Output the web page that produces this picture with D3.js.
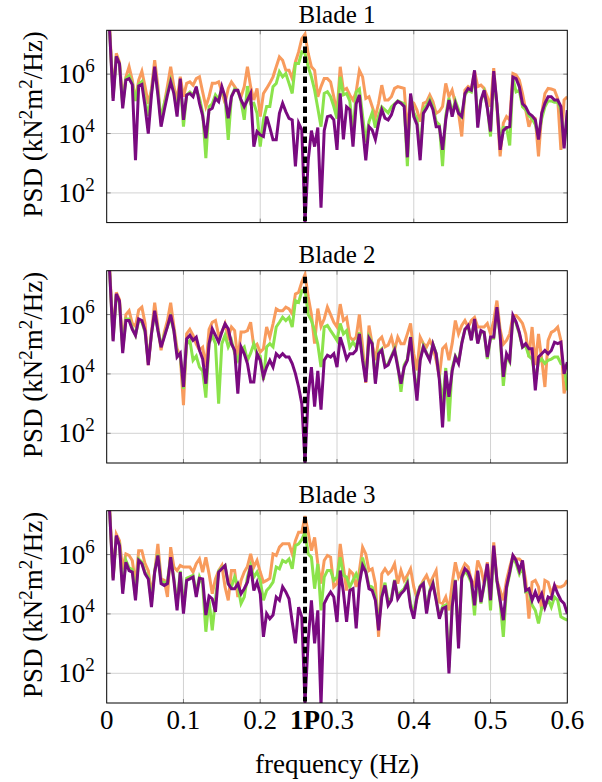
<!DOCTYPE html>
<html>
<head>
<meta charset="utf-8">
<script src="https://cdn.jsdelivr.net/npm/d3@7"></script>
<style>
  body { margin: 0; background: #fff; }
  svg text { font-family: "Liberation Serif", "Times New Roman", serif; fill: #000; }
</style>
</head>
<body>
<div id="chart"></div>
<script>
// PSD values are stored as log10(kN^2 m^2/Hz), one value per frequency bin (df = 1/240 Hz)
const df = 1 / 240;
const nBins = 145;
const oneP = 0.2583;
const onePSpan = [1.05, 7.27];
const psdDomain = [1, Math.log10(3e7)];
const yTicks = [2, 4, 6];
const xTickValues = [0, 0.1, 0.2, 0.3, 0.4, 0.5, 0.6];
const xTickLabels = ["0", "0.1", "0.2", "0.3", "0.4", "0.5", "0.6"];
const titles = ["Blade 1", "Blade 2", "Blade 3"];
const gridX = [[0.2, 0.4], [0.1, 0.2, 0.3, 0.4, 0.5], [0.1, 0.2, 0.3, 0.4, 0.5]];

const blade1Orange = [
  9.0, 7.4, 5.3, 6.7, 6.4, 5.1, 5.9, 6.25, 5.8, 5.13,
  5.8, 6.1, 5.58, 5.0, 5.5, 6.47, 5.6, 4.35, 5.0, 5.6,
  6.25, 5.58, 5.13, 5.91, 5.24, 5.69, 5.74, 5.63, 5.85, 5.91,
  5.4, 4.91, 5.24, 5.69, 5.69, 5.74, 5.41, 5.02, 5.52, 5.74,
  5.58, 5.41, 5.24, 5.58, 6.25, 5.58, 5.13, 5.52, 4.57, 5.35,
  5.52, 5.7, 5.91, 6.25, 6.58, 6.47, 6.13, 6.13, 5.85, 6.41,
  6.75, 7.2, 7.35, 6.7, 6.25, 6.13, 5.24, 5.58, 5.85, 5.85,
  5.74, 5.24, 4.68, 6.25, 5.46, 5.52, 5.3, 5.13, 5.41, 6.13,
  5.91, 5.18, 5.24, 4.91, 4.57, 5.02, 5.63, 5.13, 5.13, 5.24,
  5.52, 5.58, 5.55, 5.52, 4.12, 5.07, 5.02, 4.79, 4.40, 5.02,
  5.07, 5.30, 5.07, 4.68, 4.75, 4.91, 5.69, 5.24, 5.46, 5.02,
  4.68, 3.90, 5.46, 5.58, 5.5, 6.1, 5.58, 5.63, 5.52, 5.24,
  4.91, 6.2, 4.91, 3.23, 4.35, 4.57, 4.46, 6.02, 5.97, 5.80,
  5.35, 4.79, 4.23, 4.57, 4.5, 3.23, 4.68, 5.35, 5.52, 5.5,
  5.46, 5.18, 3.45, 5.13, 5.24
];
const blade1Green = [
  9.0, 7.3, 5.2, 6.6, 6.35, 4.95, 5.85, 5.95, 5.7, 5.1,
  5.65, 5.75, 5.1, 4.6, 5.4, 6.2, 5.4, 4.5, 5.0, 5.4,
  5.8, 5.4, 4.75, 5.8, 4.23, 5.3, 5.4, 5.3, 5.5, 5.2,
  4.7, 3.17, 4.9, 5.0, 5.3, 5.15, 5.5, 5.2, 3.79, 5.25,
  5.5, 5.45, 5.1, 4.46, 5.6, 5.0, 5.02, 4.68, 3.56, 4.46,
  4.91, 4.91, 5.58, 5.69, 6.08, 5.91, 6.02, 5.69, 5.35, 6.36,
  6.36, 6.75, 6.7, 6.25, 5.91, 5.46, 4.85, 4.23, 5.35, 5.41,
  5.24, 4.91, 4.5, 5.91, 5.3, 5.35, 5.1, 4.0, 5.4, 5.5,
  4.6, 3.7, 4.4, 4.7, 4.2, 4.6, 4.9, 4.8, 4.7, 4.9,
  5.0, 5.1, 5.05, 5.0, 2.9, 5.3, 4.7, 4.5, 3.3, 4.8,
  4.95, 5.15, 4.9, 4.4, 4.3, 2.9, 4.6, 5.2, 4.7, 5.1,
  4.8, 4.5, 5.3, 5.45, 5.4, 5.95, 4.5, 5.1, 5.4, 4.9,
  3.9, 5.95, 4.95, 3.7, 4.2, 4.2, 3.6, 5.85, 5.4, 5.45,
  4.9, 4.8, 4.6, 4.5, 4.3, 3.9, 4.5, 4.9, 5.1, 5.1,
  5.05, 5.05, 4.8, 3.6, 4.7
];
const blade1Purple = [
  9.0, 7.3, 5.1, 6.6, 6.35, 4.85, 5.8, 5.85, 5.65, 3.1,
  5.6, 5.65, 4.9, 4.0, 5.3, 6.25, 5.3, 4.23, 4.79, 5.3,
  5.74, 5.35, 4.57, 5.85, 4.46, 5.3, 5.35, 5.24, 5.58, 5.02,
  4.6, 3.84, 4.79, 4.85, 5.18, 5.07, 5.58, 5.24, 4.51, 5.24,
  5.46, 5.46, 5.13, 4.91, 5.13, 5.35, 3.56, 4.07, 3.96, 3.9,
  4.57, 4.2, 3.79, 3.79, 4.68, 5.02, 4.74, 4.51, 4.46, 2.89,
  4.35, 4.12, 1.0, 3.1, 4.1, 3.56, 4.2, 1.5, 4.1, 4.57,
  4.6, 4.46, 3.45, 5.35, 3.8, 4.9, 4.8, 3.56, 5.0, 5.3,
  4.2, 3.1, 4.23, 4.12, 3.8, 4.35, 4.8, 4.52, 4.46, 4.63,
  4.97, 5.08, 5.02, 4.91, 3.2, 5.35, 4.57, 4.3, 3.1, 4.68,
  4.85, 5.07, 4.8, 4.23, 4.23, 3.45, 4.46, 5.13, 4.57, 5.02,
  4.68, 4.57, 5.35, 5.52, 5.46, 6.13, 4.2, 5.13, 5.46, 4.85,
  4.07, 6.1, 5.0, 3.45, 4.1, 4.2, 4.23, 5.9, 5.85, 5.58,
  5.0, 4.9, 4.68, 4.6, 4.46, 3.8, 4.68, 5.02, 5.24, 5.24,
  5.13, 5.13, 4.91, 3.5, 4.79
];

const blade2Orange = [
  9.0, 7.4, 5.3, 6.75, 6.5, 5.0, 6.0, 6.13, 5.7, 5.6,
  6.15, 6.25, 5.7, 4.3, 5.4, 6.4, 5.6, 4.8, 5.4, 5.8,
  6.4, 5.6, 4.85, 4.6, 2.95, 5.35, 5.5, 5.3, 5.0, 4.8,
  4.9, 4.23, 5.5, 5.74, 5.8, 5.3, 5.41, 5.69, 5.24, 5.58,
  5.46, 4.46, 5.41, 5.41, 5.46, 5.74, 4.91, 5.0, 4.74, 4.85,
  5.58, 5.24, 5.69, 6.19, 6.13, 6.13, 6.25, 6.19, 6.02, 6.69,
  6.75, 7.1, 7.35, 6.6, 6.0, 5.02, 6.2, 5.6, 5.85, 6.25,
  6.0, 5.74, 5.58, 6.35, 5.8, 5.9, 5.24, 5.13, 5.24, 6.0,
  4.91, 3.7, 5.63, 5.0, 4.46, 5.13, 5.24, 4.91, 4.97, 5.24,
  4.8, 5.24, 5.02, 5.02, 5.35, 5.7, 4.68, 4.12, 5.24, 5.02,
  4.91, 5.13, 4.91, 4.46, 3.9, 4.85, 4.97, 4.46, 5.02, 5.8,
  5.35, 5.63, 5.8, 5.58, 5.8, 5.9, 5.58, 5.58, 5.58, 5.7,
  5.35, 5.8, 6.47, 5.5, 5.0, 5.13, 5.35, 5.97, 5.97, 5.85,
  5.7, 5.35, 4.57, 5.58, 4.3, 5.35, 4.5, 3.56, 5.13, 5.4,
  5.46, 5.58, 5.13, 3.34, 3.9
];
const blade2Green = [
  9.0, 7.3, 5.15, 6.65, 6.4, 4.8, 5.85, 5.85, 5.55, 5.3,
  5.8, 5.75, 5.4, 4.4, 5.35, 6.05, 5.5, 4.95, 5.3, 5.6,
  5.9, 5.45, 4.7, 4.6, 3.5, 5.0, 5.13, 4.46, 4.6, 4.23,
  4.1, 3.2, 5.02, 5.3, 5.02, 3.0, 5.02, 5.3, 4.91, 5.13,
  4.7, 4.46, 4.8, 4.91, 4.46, 4.7, 5.02, 4.68, 4.6, 3.79,
  4.91, 5.02, 4.91, 5.58, 5.74, 5.91, 5.8, 5.91, 5.58, 6.47,
  6.41, 6.8, 6.85, 6.0, 5.8, 5.46, 5.0, 4.23, 5.58, 5.63,
  5.46, 5.3, 5.13, 5.7, 5.35, 5.46, 4.9, 5.07, 4.9, 5.4,
  4.6, 3.8, 5.25, 5.05, 3.8, 4.75, 4.85, 4.3, 4.35, 4.6,
  4.85, 4.3, 3.4, 4.3, 4.5, 5.25, 4.2, 3.3, 4.5, 4.95,
  4.7, 4.5, 5.0, 4.7, 3.9, 3.0, 4.2, 2.4, 4.2, 4.6,
  4.4, 5.05, 5.5, 5.6, 5.15, 5.8, 5.05, 5.4, 5.4, 4.5,
  5.2, 5.2, 6.2, 5.3, 3.6, 4.6, 4.4, 5.95, 5.7, 5.35,
  4.9, 4.95, 4.6, 4.5, 3.8, 4.4, 4.5, 4.35, 4.46, 4.5,
  4.57, 4.57, 4.35, 4.3, 3.45
];
const blade2Purple = [
  9.0, 7.3, 5.1, 6.7, 6.45, 4.7, 5.8, 5.8, 5.5, 5.3,
  5.85, 5.8, 5.45, 4.3, 5.35, 6.13, 5.46, 4.9, 5.24, 5.6,
  6.0, 5.46, 4.57, 4.7, 3.56, 5.18, 5.3, 5.13, 5.24, 4.8,
  4.5, 3.67, 5.02, 5.52, 5.3, 5.07, 5.41, 5.69, 5.52, 5.02,
  4.79, 3.34, 4.91, 4.68, 4.35, 3.73, 3.73, 4.68, 4.46, 3.9,
  4.23, 4.46, 4.23, 4.68, 4.57, 4.68, 4.57, 4.57, 4.35, 4.01,
  3.56, 3.0, 1.0, 3.3, 4.23, 2.9, 4.1, 2.8, 4.46, 4.63,
  4.57, 4.68, 4.23, 5.24, 4.9, 4.5, 4.68, 4.68, 4.8, 5.35,
  4.46, 3.73, 5.2, 5.02, 3.67, 4.68, 4.8, 4.23, 4.3, 4.57,
  4.8, 4.23, 3.67, 4.23, 4.46, 5.24, 4.12, 3.1, 4.46, 4.91,
  4.68, 4.46, 5.0, 4.68, 3.8, 2.2, 4.1, 3.23, 4.1, 4.57,
  4.35, 5.02, 5.5, 5.63, 5.13, 5.85, 5.02, 5.46, 5.4, 4.57,
  5.24, 5.24, 6.25, 5.3, 3.9, 4.68, 4.46, 5.97, 5.75, 5.4,
  4.91, 5.02, 4.85, 4.85, 3.45, 4.57, 4.68, 4.79, 4.68, 4.79,
  5.07, 5.02, 5.07, 4.0, 4.4
];

const blade3Orange = [
  9.0, 7.4, 5.24, 6.69, 6.47, 5.5, 6.02, 5.97, 5.80, 5.02,
  6.13, 6.13, 5.69, 5.46, 4.68, 5.4, 6.36, 5.18, 5.13, 4.57,
  6.25, 5.58, 5.46, 5.63, 5.58, 5.58, 5.58, 5.41, 5.69, 5.85,
  5.41, 5.91, 5.35, 4.68, 5.18, 5.46, 5.63, 4.91, 4.46, 5.46,
  5.46, 4.57, 5.13, 5.41, 5.6, 6.02, 5.58, 5.80, 5.41, 5.07,
  5.13, 5.2, 6.02, 5.97, 6.25, 6.36, 6.36, 6.36, 6.02, 6.47,
  6.75, 6.75, 7.30, 6.75, 6.13, 6.58, 5.69, 5.02, 5.80, 5.97,
  5.91, 4.91, 5.02, 6.36, 5.58, 4.79, 5.46, 5.35, 4.91, 5.46,
  6.25, 6.02, 5.46, 5.52, 5.02, 3.23, 5.35, 5.52, 5.35, 5.46,
  5.69, 5.02, 5.46, 5.13, 5.30, 5.52, 4.91, 4.51, 4.91, 5.13,
  5.30, 5.02, 5.24, 5.46, 4.40, 4.35, 4.57, 4.12, 5.02, 5.74,
  5.24, 5.46, 5.69, 5.58, 5.13, 4.96, 5.80, 5.52, 5.02, 5.74,
  4.85, 6.41, 5.13, 4.79, 4.46, 5.13, 5.58, 5.97, 5.85, 5.85,
  5.74, 5.13, 3.84, 5.07, 5.13, 4.91, 4.12, 5.13, 5.07, 4.68,
  4.96, 4.91, 4.91, 4.96, 5.13
];
const blade3Green = [
  9.0, 7.3, 5.2, 6.6, 6.35, 4.8, 5.8, 5.55, 5.5, 4.6,
  5.85, 5.75, 5.4, 5.25, 4.4, 5.45, 6.0, 5.1, 5.05, 5.1,
  5.9, 5.2, 4.3, 5.45, 4.2, 5.2, 5.25, 5.3, 4.7, 5.25,
  5.0, 3.40, 4.46, 3.45, 4.5, 5.45, 5.55, 5.63, 5.0, 4.91,
  5.24, 4.95, 4.35, 4.57, 5.24, 5.63, 5.24, 5.41, 5.13, 4.46,
  4.79, 4.91, 5.07, 5.58, 5.52, 5.80, 5.74, 5.85, 5.52, 6.30,
  6.36, 6.5, 6.75, 6.02, 5.91, 4.85, 5.69, 4.12, 5.24, 5.46,
  5.46, 5.13, 5.24, 5.91, 5.30, 5.24, 4.91, 5.13, 5.35, 5.1,
  5.9, 5.45, 4.95, 4.9, 4.6, 3.6, 4.65, 5.05, 4.4, 4.55,
  5.15, 4.6, 4.75, 4.85, 5.1, 4.35, 4.0, 4.65, 4.95, 5.05,
  4.1, 4.8, 5.05, 4.5, 3.9, 4.25, 4.3, 2.2, 4.3, 5.15,
  3.0, 5.2, 5.45, 5.3, 5.05, 3.95, 5.4, 4.35, 4.95, 5.6,
  4.12, 6.2, 5.1, 4.4, 3.23, 4.85, 5.35, 5.9, 5.7, 5.35,
  5.6, 4.75, 4.8, 4.3, 4.12, 3.68, 4.2, 4.23, 4.5, 4.23,
  4.57, 4.46, 3.9, 3.84, 3.79
];
const blade3Purple = [
  9.0, 7.3, 5.13, 6.64, 6.30, 4.68, 5.74, 5.46, 5.41, 4.46,
  5.80, 5.69, 5.35, 5.18, 4.23, 5.41, 5.97, 5.02, 4.96, 5.02,
  5.91, 5.13, 4.12, 5.41, 4.01, 5.13, 5.18, 5.24, 4.57, 5.2,
  5.18, 3.96, 4.6, 4.51, 4.07, 5.41, 5.52, 5.63, 5.02, 4.85,
  4.85, 5.02, 4.68, 4.85, 5.07, 5.63, 4.79, 5.07, 4.68, 3.23,
  4.01, 3.84, 3.96, 4.57, 4.46, 4.91, 4.74, 4.51, 3.73, 3.01,
  4.23, 3.9, 1.0, 3.12, 4.46, 3.01, 4.12, 0.9, 4.35, 4.57,
  4.74, 4.57, 3.73, 5.46, 4.74, 3.73, 4.79, 4.85, 3.51, 5.02,
  5.63, 5.41, 4.85, 4.79, 4.46, 3.45, 4.57, 4.96, 4.29, 4.46,
  5.13, 4.51, 4.68, 4.79, 5.02, 4.23, 3.84, 4.57, 4.91, 5.02,
  4.01, 4.74, 5.02, 4.46, 3.84, 4.18, 4.23, 2.0, 4.23, 5.13,
  2.84, 5.24, 5.52, 5.41, 5.13, 4.29, 5.46, 4.40, 5.02, 5.69,
  4.46, 6.30, 5.13, 4.46, 3.79, 4.91, 5.41, 5.97, 5.80, 5.46,
  5.80, 4.79, 4.85, 4.46, 4.74, 4.46, 4.68, 4.23, 4.57, 4.51,
  4.96, 4.68, 4.46, 4.35, 4.01
];

const seriesColors = {orange: "#f89b5d", green: "#8be34b", purple: "#7a0a80"};

const freq = d3.range(nBins).map(i => i * df);

let width = 602,
    height = 782;
let left = 106.7, right = 567.3;
let panelTop = [30.3, 270.7, 510.7], panelH = 192.3;
let fs = 27, fsSup = 19, fsTitle = 25;

let blades = [
    {orange: blade1Orange, green: blade1Green, purple: blade1Purple},
    {orange: blade2Orange, green: blade2Green, purple: blade2Purple},
    {orange: blade3Orange, green: blade3Green, purple: blade3Purple}
];

let svg = d3.select("#chart").append("svg")
    .attr("width", width)
    .attr("height", height);

let x = d3.scaleLinear().domain([0, 0.6]).range([left, right]);

blades.forEach((b, k) => {
    let top = panelTop[k], bottom = top + panelH;
    let y = d3.scaleLinear().domain(psdDomain).range([bottom, top]);
    let g = svg.append("g");

    g.append("clipPath").attr("id", "clip" + k)
      .append("rect")
        .attr("x", left).attr("y", top)
        .attr("width", right - left).attr("height", panelH);

    // grid lines
    g.selectAll(".vgrid").data(gridX[k]).enter().append("line")
        .attr("x1", d => x(d)).attr("x2", d => x(d))
        .attr("y1", top).attr("y2", bottom)
        .attr("stroke", "#d2d2d2").attr("stroke-width", 1);
    g.selectAll(".hgrid").data(yTicks).enter().append("line")
        .attr("x1", left).attr("x2", right)
        .attr("y1", d => y(d)).attr("y2", d => y(d))
        .attr("stroke", "#d2d2d2").attr("stroke-width", 1);

    // tick marks on all four sides
    gridX[k].forEach(v => {
        g.append("line").attr("x1", x(v)).attr("x2", x(v)).attr("y1", bottom).attr("y2", bottom - 4)
            .attr("stroke", "#808080").attr("stroke-width", 1);
        g.append("line").attr("x1", x(v)).attr("x2", x(v)).attr("y1", top).attr("y2", top + 4)
            .attr("stroke", "#808080").attr("stroke-width", 1);
    });
    yTicks.forEach(v => {
        g.append("line").attr("x1", left).attr("x2", left + 4).attr("y1", y(v)).attr("y2", y(v))
            .attr("stroke", "#808080").attr("stroke-width", 1);
        g.append("line").attr("x1", right).attr("x2", right - 4).attr("y1", y(v)).attr("y2", y(v))
            .attr("stroke", "#808080").attr("stroke-width", 1);
    });

    let line = d3.line()
        .x((d, i) => x(freq[i]))
        .y(d => y(d));

    let plot = g.append("g").attr("clip-path", "url(#clip" + k + ")");
    ["orange", "green", "purple"].forEach(s => {
        plot.append("path")
            .datum(b[s])
            .attr("d", line)
            .attr("fill", "none")
            .attr("stroke", seriesColors[s])
            .attr("stroke-width", 3);
    });

    plot.append("line")
        .attr("x1", x(oneP)).attr("x2", x(oneP))
        .attr("y1", y(onePSpan[1])).attr("y2", y(onePSpan[0]))
        .attr("stroke", "#000")
        .attr("stroke-width", 4)
        .attr("stroke-dasharray", "6.5,3.5");

    // frame
    g.append("rect")
        .attr("x", left).attr("y", top)
        .attr("width", right - left).attr("height", panelH)
        .attr("fill", "none").attr("stroke", "#000").attr("stroke-width", 1);

    // y tick labels 10^n
    yTicks.forEach(v => {
        let t = g.append("text")
            .attr("x", left - 12)
            .attr("y", y(v) + 9)
            .attr("text-anchor", "end")
            .attr("font-size", fs);
        t.append("tspan").text("10");
        t.append("tspan").attr("dy", -11).attr("font-size", fsSup).text(v);
    });

    // y label
    let yl = g.append("text")
        .attr("transform", "translate(42," + (top + panelH / 2 - 2) + ") rotate(-90)")
        .attr("text-anchor", "middle")
        .attr("font-size", fs);
    yl.append("tspan").text("PSD (kN");
    yl.append("tspan").attr("dy", -10).attr("font-size", fsSup).text("2");
    yl.append("tspan").attr("dy", 10).text("m");
    yl.append("tspan").attr("dy", -10).attr("font-size", fsSup).text("2");
    yl.append("tspan").attr("dy", 10).text("/Hz)");

    // title
    g.append("text")
        .attr("x", (left + right) / 2)
        .attr("y", top - 7.3)
        .attr("text-anchor", "middle")
        .attr("font-size", fsTitle)
        .text(titles[k]);

    if (k == 2) {
        g.selectAll(".xlab").data(xTickValues).enter().append("text")
            .attr("x", d => x(d))
            .attr("y", bottom + 26)
            .attr("text-anchor", "middle")
            .attr("font-size", fs)
            .text((d, i) => xTickLabels[i]);
        g.append("text")
            .attr("x", x(oneP))
            .attr("y", bottom + 26)
            .attr("text-anchor", "middle")
            .attr("font-size", fs)
            .attr("font-weight", "bold")
            .text("1P");
        g.append("text")
            .attr("x", (left + right) / 2)
            .attr("y", bottom + 70)
            .attr("text-anchor", "middle")
            .attr("font-size", fs)
            .text("frequency (Hz)");
    }
});
</script>
</body>
</html>
